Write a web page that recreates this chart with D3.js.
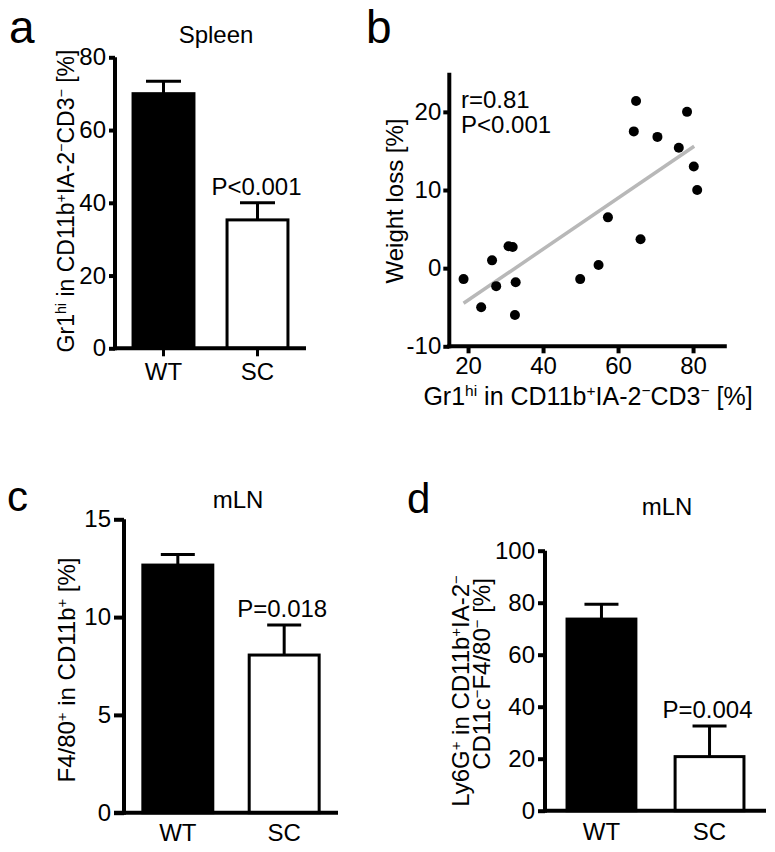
<!DOCTYPE html>
<html><head><meta charset="utf-8">
<script src="https://cdn.jsdelivr.net/npm/d3@7"></script>
<style>
body{margin:0;background:#fff;}
text{font-family:"Liberation Sans",Arial,Helvetica,sans-serif;fill:#000;}
</style></head>
<body>
<script>
// ---------- DATA ----------
const groups = ["WT", "SC"];
// panel a: Spleen
const spleenMean = [70, 35.3];
const spleenErr = [73.4, 40];
const spleenTicks = [0, 20, 40, 60, 80];
// panel b: correlation
const corrX = [64.8, 78.4, 64.2, 70.5, 76.2, 80.2, 81.1, 57.3, 66.0, 54.8, 49.9, 18.8, 26.4, 30.8, 31.9, 27.5, 32.7, 23.5, 32.5];
const corrY = [21.4, 20.0, 17.5, 16.8, 15.4, 13.0, 10.0, 6.5, 3.7, 0.4, -1.4, -1.4, 1.0, 2.8, 2.7, -2.3, -1.8, -5.0, -6.0];
const fitX = [18.8, 80.3];
const fitY = [-4.5, 15.6];
const corrXTicks = [20, 40, 60, 80];
const corrYTicks = [-10, 0, 10, 20];
// panel c: mLN F4/80
const f480Mean = [12.66, 8.06];
const f480Err = [13.2, 9.6];
const f480Ticks = [0, 5, 10, 15];
// panel d: mLN Ly6G
const ly6gMean = [73.7, 20.8];
const ly6gErr = [79.4, 32.6];
const ly6gTicks = [0, 20, 40, 60, 80, 100];

const svg = d3.select("body").append("svg").attr("width", 775).attr("height", 852);
const plainFmt = d => String(d);

function richText(g, segs, attrs) {
  const t = g.append("text");
  Object.entries(attrs).forEach(([k, v]) => t.attr(k, v));
  segs.forEach(s => {
    if (typeof s === "string") t.append("tspan").text(s);
    else t.append("tspan").attr("font-size", "0.62em").attr("baseline-shift", "55%").text(s[0]);
  });
  return t;
}

function barPanel(o) {
  const g = svg.append("g");
  const y = d3.scaleLinear().domain(o.domain).range([o.y0, o.y1]);
  const x = d3.scaleBand().domain(groups).range([o.axX, o.xEnd]).paddingInner(o.pi).paddingOuter(o.po);
  // y axis
  const ya = g.append("g").attr("transform", `translate(${o.axX},0)`)
    .call(d3.axisLeft(y).tickValues(o.ticks).tickFormat(plainFmt).tickSize(o.tick).tickSizeOuter(0).tickPadding(3));
  ya.select(".domain").attr("stroke-width", 4).attr("d", `M0,${o.y0 + 2}V${o.y1}`);
  ya.selectAll(".tick line").attr("stroke-width", 4);
  ya.selectAll(".tick text").attr("font-size", 24).attr("font-family", "Liberation Sans, Arial, sans-serif");
  // bars
  groups.forEach((c, i) => {
    const xb = x(c), w = x.bandwidth();
    const top = y(o.mean[i]), et = y(o.err[i]), cx = xb + w / 2;
    g.append("line").attr("x1", cx).attr("x2", cx).attr("y1", top).attr("y2", et).attr("stroke", "#000").attr("stroke-width", 3);
    g.append("line").attr("x1", cx - o.cap / 2).attr("x2", cx + o.cap / 2).attr("y1", et).attr("y2", et).attr("stroke", "#000").attr("stroke-width", 3);
    g.append("rect").attr("x", xb + 1.5).attr("y", top).attr("width", w - 3).attr("height", y(0) - top)
      .attr("fill", i === 0 ? "#000" : "#fff").attr("stroke", "#000").attr("stroke-width", 3);
    if (o.xTicks) g.append("line").attr("x1", cx).attr("x2", cx).attr("y1", y(0)).attr("y2", y(0) + 8).attr("stroke", "#000").attr("stroke-width", 3);
    g.append("text").attr("x", cx).attr("y", o.labY).attr("text-anchor", "middle").attr("font-size", 24).text(c);
    if (i === 1) g.append("text").attr("x", cx + o.pdx).attr("y", et - 8).attr("text-anchor", "middle").attr("font-size", 24).text(o.p);
  });
  // x axis
  g.append("line").attr("x1", o.xStart).attr("x2", o.xEnd).attr("y1", y(0)).attr("y2", y(0)).attr("stroke", "#000").attr("stroke-width", 4);
  // titles
  g.append("text").attr("x", o.letterX).attr("y", o.letterY).attr("font-size", o.letterSize).text(o.letter);
  g.append("text").attr("x", o.titleX).attr("y", o.titleY).attr("text-anchor", "middle").attr("font-size", 24).text(o.title);
  o.ylabels.forEach(l => richText(g, l.segs, {transform: `translate(${l.x},${l.y}) rotate(-90)`, "text-anchor": "middle", "font-size": l.fs}));
}

// Panel a
barPanel({domain: [0, 80], y0: 348.3, y1: 57.3, axX: 115, xStart: 115, xEnd: 306, pi: 0.32, po: 0.176,
  ticks: spleenTicks, tick: 6, mean: spleenMean, err: spleenErr, cap: 35, xTicks: true, labY: 380,
  p: "P<0.001", pdx: -1, letter: "a", letterX: 9, letterY: 43, letterSize: 46, title: "Spleen", titleX: 216, titleY: 43,
  ylabels: [{x: 74, y: 201, fs: 23, segs: ["Gr1", ["hi"], " in CD11b", ["+"], "IA-2", ["−"], "CD3", ["−"], " [%]"]}]});

// Panel c
barPanel({domain: [0, 15], y0: 812.7, y1: 519.3, axX: 124, xStart: 114, xEnd: 338, pi: 0.314, po: 0.163,
  ticks: f480Ticks, tick: 10, mean: f480Mean, err: f480Err, cap: 34, xTicks: false, labY: 841,
  p: "P=0.018", pdx: -2, letter: "c", letterX: 7, letterY: 511, letterSize: 42, title: "mLN", titleX: 238, titleY: 508,
  ylabels: [{x: 75, y: 670, fs: 24, segs: ["F4/80", ["+"], " in CD11b", ["+"], " [%]"]}]});

// Panel d
barPanel({domain: [0, 100], y0: 810.7, y1: 550.7, axX: 545, xStart: 545, xEnd: 766, pi: 0.335, po: 0.19,
  ticks: ly6gTicks, tick: 7, mean: ly6gMean, err: ly6gErr, cap: 34, xTicks: false, labY: 840,
  p: "P=0.004", pdx: -2, letter: "d", letterX: 407, letterY: 513, letterSize: 42, title: "mLN", titleX: 667, titleY: 515,
  ylabels: [{x: 469, y: 691, fs: 24, segs: ["Ly6G", ["+"], " in CD11b", ["+"], "IA-2", ["−"]]},
            {x: 490, y: 674, fs: 24, segs: ["CD11c", ["−"], "F4/80", ["−"], " [%]"]}]});

// Panel b
(function () {
  const g = svg.append("g");
  const x = d3.scaleLinear().domain([15, 89]).range([449.3, 726.8]);
  const y = d3.scaleLinear().domain([-10, 25]).range([346.3, 72.8]);
  const ya = g.append("g").attr("transform", `translate(${x(15)},0)`)
    .call(d3.axisLeft(y).tickValues(corrYTicks).tickFormat(plainFmt).tickSize(6).tickSizeOuter(0).tickPadding(2));
  ya.select(".domain").attr("stroke-width", 4).attr("d", `M0,${y(-10) + 2}V${y(25)}`);
  ya.selectAll(".tick line").attr("stroke-width", 4);
  ya.selectAll(".tick text").attr("font-size", 24).attr("font-family", "Liberation Sans, Arial, sans-serif");
  const xa = g.append("g").attr("transform", `translate(0,${y(-10)})`)
    .call(d3.axisBottom(x).tickValues(corrXTicks).tickFormat(plainFmt).tickSize(7).tickSizeOuter(0).tickPadding(4));
  xa.select(".domain").attr("stroke-width", 4).attr("d", `M${x(15) - 2},0H${x(89)}`);
  xa.selectAll(".tick line").attr("stroke-width", 4);
  xa.selectAll(".tick text").attr("font-size", 24).attr("font-family", "Liberation Sans, Arial, sans-serif");
  // fit line
  g.append("path").datum(fitX.map((v, i) => [v, fitY[i]]))
    .attr("d", d3.line().x(d => x(d[0])).y(d => y(d[1])))
    .attr("stroke", "#b8b8b8").attr("stroke-width", 3.5).attr("fill", "none");
  // points
  g.selectAll("circle.pt").data(corrX.map((v, i) => [v, corrY[i]])).join("circle")
    .attr("class", "pt").attr("cx", d => x(d[0])).attr("cy", d => y(d[1])).attr("r", 5).attr("fill", "#000");
  g.append("text").attr("x", 461).attr("y", 108).attr("font-size", 24).text("r=0.81");
  g.append("text").attr("x", 461).attr("y", 133).attr("font-size", 24).text("P<0.001");
  g.append("text").attr("x", 366).attr("y", 43).attr("font-size", 46).text("b");
  richText(g, ["Weight loss [%]"], {transform: "translate(403,201) rotate(-90)", "text-anchor": "middle", "font-size": 24});
  richText(g, ["Gr1", ["hi"], " in CD11b", ["+"], "IA-2", ["−"], "CD3", ["−"], " [%]"], {x: 588, y: 405, "text-anchor": "middle", "font-size": 25});
})();
</script>
</body></html>
